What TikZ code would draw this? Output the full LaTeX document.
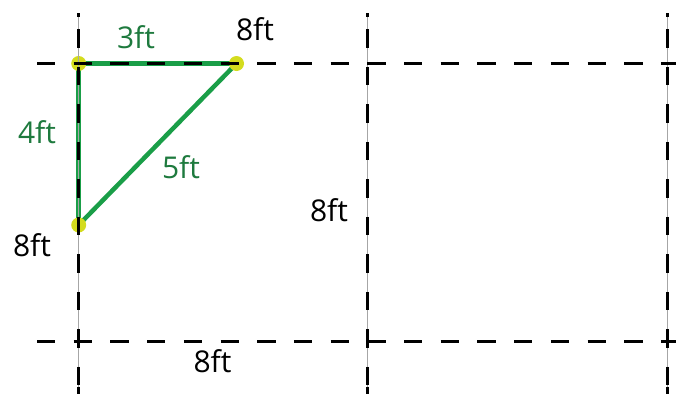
\documentclass[tikz,border=0pt]{standalone}
\usepackage{fontspec}
\setmainfont{Open Sans}
\definecolor{linegreen}{HTML}{1A9E48}
\definecolor{textgreen}{HTML}{1E7A3E}
\definecolor{dotyellow}{HTML}{D4DC1E}
\tikzset{
  greenline/.style={draw=linegreen, line width=4.5pt},
  yellowdot/.style={circle, fill=dotyellow, minimum size=15pt, inner sep=0pt},
  thingrid/.style={draw=gray!70, line width=0.8pt},
  vdash/.style={draw=black, line width=3pt,
    dash pattern=on 4pt off 12.3pt on 18.3pt off 19.2pt on 18.3pt off 19.2pt on 18.3pt off 19.2pt on 18.3pt off 19.2pt on 18.3pt off 19.2pt on 18.3pt off 19.2pt on 18.3pt off 19.2pt on 18.3pt off 19.2pt on 18.3pt off 19.2pt on 18.3pt off 1.6pt on 12pt off 4pt},
  hdash/.style={draw=black, line width=3pt, dash pattern=on 18.3pt off 18.4pt},
  lbl/.style={anchor=base, inner sep=0pt, font=\fontsize{30}{36}\selectfont},
  glbl/.style={lbl, text=textgreen}
}
\begin{document}
\begin{tikzpicture}[x=1pt, y=-1pt]
\useasboundingbox (0,0) rectangle (676,394);
% triangle corners
\coordinate (A) at (78.7,63.5);
\coordinate (B) at (236.5,63.5);
\coordinate (C) at (78.7,225);
\draw[greenline] (A) -- (B);
\draw[greenline] (B) -- (C);
\draw[greenline] (C) -- (A);
\node[yellowdot] (dA) at (A) {};
\node[yellowdot] (dB) at (B) {};
\node[yellowdot] (dC) at (C) {};
% grid
\foreach \x in {78.7,367.5,667.7} {
  \draw[thingrid] (\x,13) -- (\x,394);
  \draw[vdash] (\x,13) -- (\x,394);
}
\foreach \y in {63.5,341.7} {
  \draw[hdash] (37,\y) -- (676,\y);
}
% labels
\node[glbl] (l3) at (136,48) {3ft};
\node[glbl] (l4) at (37,143) {4ft};
\node[glbl] (l5) at (181,178) {5ft};
\node[lbl] (t1) at (255,40.5) {8ft};
\node[lbl] (t2) at (32,256) {8ft};
\node[lbl] (t3) at (329,221.7) {8ft};
\node[lbl] (t4) at (212.5,372) {8ft};
\end{tikzpicture}
\end{document}
